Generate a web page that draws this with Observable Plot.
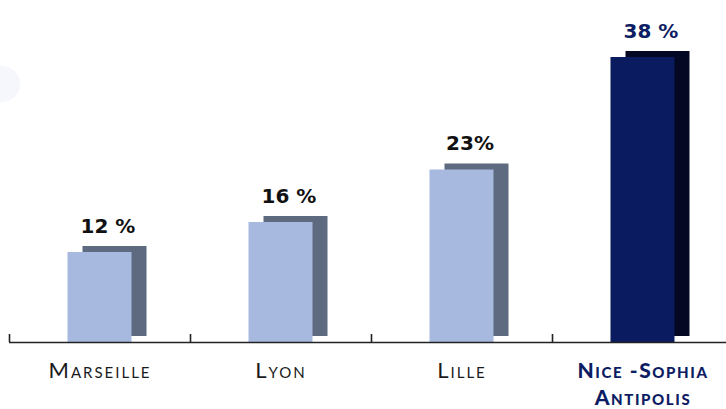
<!DOCTYPE html>
<html>
<head>
<meta charset="utf-8">
<script src="https://cdn.jsdelivr.net/npm/d3@7"></script>
<script src="https://cdn.jsdelivr.net/npm/@observablehq/plot@0.6"></script>
<style>
  html, body { margin: 0; padding: 0; background: #fff; }
  #chart {
    position: relative; width: 726px; height: 409px; overflow: hidden;
    background: radial-gradient(ellipse 21px 19px at 0px 84px, #f6f7fc 92%, rgba(255,255,255,0) 100%);
  }
  svg { display: block; background: transparent !important; }
</style>
</head>
<body>
<div id="chart"></div>
<script>
const categories = ["Marseille", "Lyon", "Lille", "Nice -Sophia\nAntipolis"];
const values = [12, 16, 23, 38];
const valueLabels = ["12 %", "16 %", "23%", "38 %"];
const highlighted = [false, false, false, true];

const data = categories.map((c, i) => ({
  city: c, value: values[i], label: valueLabels[i], hi: highlighted[i]
}));

const W = 726, H = 409;
const marginTop = 42, marginBottom = 67, marginLeft = 9, marginRight = 0;
const yMax = 40;
const plotH = H - marginTop - marginBottom;
const pxPerUnit = plotH / yMax;
const xRange = [9, 733];
const step = (xRange[1] - xRange[0]) / categories.length;
const barW = 64;
const inset = (step - barW) / 2;
const tickLen = 8;

const front = d => d.hi ? "#0a1b5f" : "#a8b9df";
const back = d => d.hi ? "#040823" : "#5d6a80";
const navy = "#0d1d63";

const chart = Plot.plot({
  width: W, height: H,
  marginTop, marginBottom, marginLeft, marginRight,
  style: { background: "transparent" },
  x: { domain: categories, range: xRange, padding: 0, axis: null },
  y: { domain: [0, yMax], axis: null },
  marks: [
    Plot.barY(data, { x: "city", y: "value", fill: back, insetLeft: inset, insetRight: inset, dx: 15, dy: -6 }),
    Plot.barY(data, { x: "city", y: "value", fill: front, insetLeft: inset, insetRight: inset }),
    Plot.ruleY([0], { stroke: "#222", strokeWidth: 1.6 }),
    Plot.ruleX(data, { x: "city", y1: 0, y2: tickLen / pxPerUnit, dx: -step / 2, stroke: "#222", strokeWidth: 1.6 }),
    Plot.text(data, {
      x: "city", y: "value", text: "label", dy: -20, dx: 8, lineAnchor: "bottom",
      fill: d => d.hi ? navy : "#111", fontSize: 20, fontWeight: 700,
      fontFamily: "'DejaVu Sans', sans-serif"
    }),
    Plot.text(data.filter(d => !d.hi), {
      x: "city", y: 0, text: "city", dy: 20, lineAnchor: "top",
      fill: "#1a1a1a", fontSize: 22, fontWeight: 400, fontFamily: "Lato, 'Open Sans', sans-serif",
      className: "cat-label"
    }),
    Plot.text(data.filter(d => d.hi), {
      x: "city", y: 0, text: "city", dy: 16, lineAnchor: "top", lineHeight: 1.3,
      fill: navy, fontSize: 21, fontWeight: 900, fontFamily: "Lato, 'Open Sans', sans-serif",
      className: "cat-label-hi"
    })
  ]
});
chart.querySelectorAll(".cat-label text, g.cat-label text, .cat-label").forEach(t => {
  t.style.fontVariant = "small-caps"; t.style.letterSpacing = "2px";
});
chart.querySelectorAll(".cat-label-hi text, g.cat-label-hi text, .cat-label-hi").forEach(t => {
  t.style.fontVariant = "small-caps"; t.style.letterSpacing = "1.6px";
});
document.getElementById("chart").appendChild(chart);
</script>
</body>
</html>
